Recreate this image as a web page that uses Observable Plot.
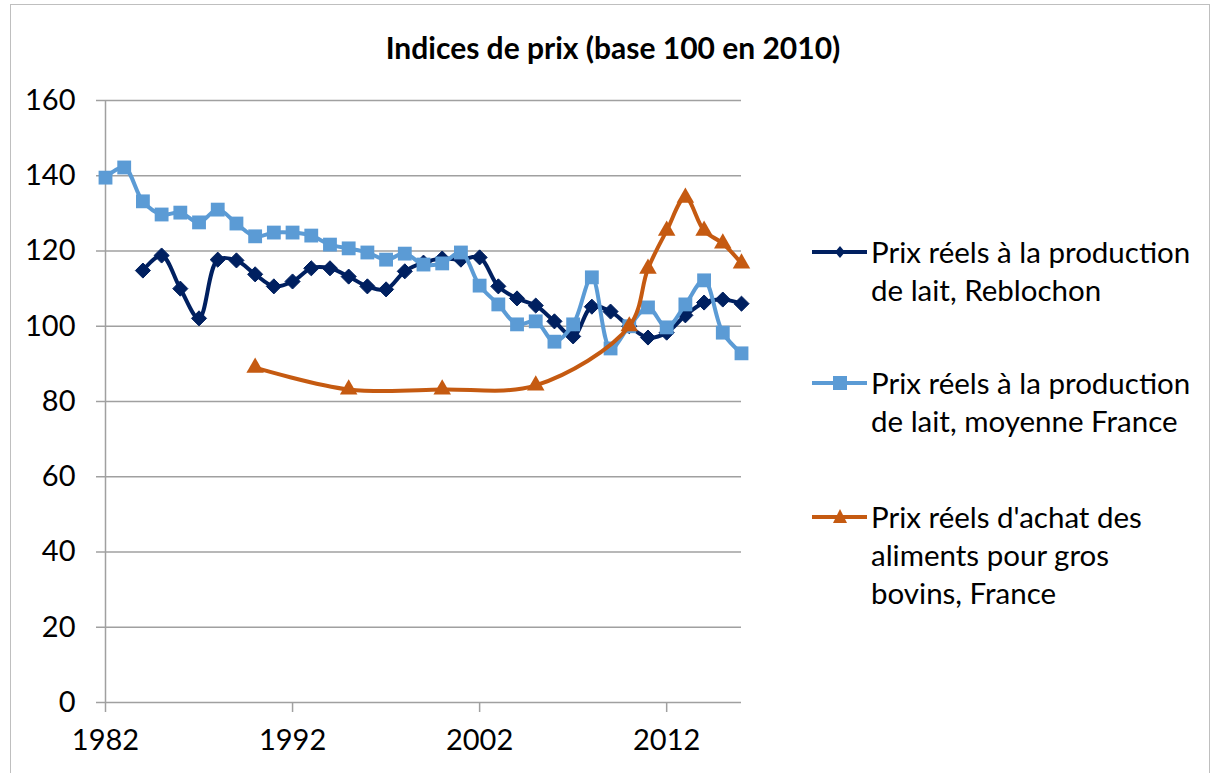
<!DOCTYPE html>
<html>
<head>
<meta charset="utf-8">
<script src="https://cdn.jsdelivr.net/npm/d3@7"></script>
<script src="https://cdn.jsdelivr.net/npm/@observablehq/plot@0.6"></script>
<style>
  html, body { margin: 0; padding: 0; background: #fff; overflow: hidden; }
  #wrap { position: relative; width: 1216px; height: 773px; font-family: Lato, "Open Sans", sans-serif; color: #000; }
  #frame { position: absolute; left: 10px; top: 4px; width: 1200px; height: 800px; border: 1.5px solid #bfbfbf; box-sizing: border-box; }
  #title { position: absolute; left: 0; width: 1226px; top: 28px; text-align: center; font-weight: bold; font-size: 30px; line-height: 38px; }
  .leg { position: absolute; left: 800px; font-size: 29.5px; line-height: 38px; }
  .leg svg { position: absolute; left: 0; top: 0; }
  .leg .txt { position: absolute; left: 71px; top: 0; white-space: nowrap; }
  #chart { position: absolute; left: 0; top: 0; }
</style>
</head>
<body>
<div id="wrap">
  <div id="frame"></div>
  <div id="chart"></div>
  <div id="title"></div>
  <div id="legend"></div>
</div>
<script>
// ---- data ----
const title = "Indices de prix (base 100 en 2010)";
const xTicks = [1982, 1992, 2002, 2012];
const yTicks = [0, 20, 40, 60, 80, 100, 120, 140, 160];

const seriesNames = [
  "Prix réels à la production\nde lait, Reblochon",
  "Prix réels à la production\nde lait, moyenne France",
  "Prix réels d'achat des\naliments pour gros\nbovins, France"
];
const seriesColors = ["#002060", "#5b9bd5", "#c55a11"];

const reblochonYears = [1984,1985,1986,1987,1988,1989,1990,1991,1992,1993,1994,1995,1996,1997,1998,1999,2000,2001,2002,2003,2004,2005,2006,2007,2008,2009,2010,2011,2012,2013,2014,2015,2016];
const reblochonValues = [114.8,118.8,110.0,102.1,117.7,117.5,113.8,110.6,111.9,115.4,115.4,113.2,110.6,109.8,114.6,116.9,118.0,117.7,118.3,110.6,107.4,105.5,101.3,97.3,105.2,103.9,100.0,97.0,98.3,102.9,106.3,107.1,106.0];

const franceYears = [1982,1983,1984,1985,1986,1987,1988,1989,1990,1991,1992,1993,1994,1995,1996,1997,1998,1999,2000,2001,2002,2003,2004,2005,2006,2007,2008,2009,2010,2011,2012,2013,2014,2015,2016];
const franceValues = [139.5,142.2,133.2,129.7,130.2,127.6,131.0,127.3,123.9,124.9,124.9,124.1,121.7,120.7,119.6,117.7,119.3,116.4,116.7,119.6,110.8,105.8,100.5,101.3,95.9,100.5,113.0,94.1,100.0,105.0,99.7,105.8,112.2,98.3,92.8];

const feedYears = [1990,1995,2000,2005,2010,2011,2012,2013,2014,2015,2016];
const feedValues = [89.0,83.2,83.2,84.3,100.0,115.3,125.4,134.2,125.4,122.0,116.7];

// ---- build ----
const reblochon = reblochonYears.map((year, i) => ({year, value: reblochonValues[i]}));
const france = franceYears.map((year, i) => ({year, value: franceValues[i]}));
const feed = feedYears.map((year, i) => ({year, value: feedValues[i]}));

const grid = "#a0a0a0";
const curve = "catmull-rom";

const chart = Plot.plot({
  width: 1216,
  height: 773,
  marginLeft: 105,
  marginRight: 475,
  marginTop: 100,
  marginBottom: 71,
  style: {fontFamily: "Lato, 'Open Sans', sans-serif", fontSize: "29px", color: "#000", background: "transparent", overflow: "visible"},
  x: {domain: [1982, 2016]},
  y: {domain: [0, 160]},
  marks: [
    Plot.ruleY(yTicks, {stroke: grid, strokeWidth: 1.5}),
    Plot.ruleX([1982], {stroke: grid, strokeWidth: 1.5}),
    Plot.axisY({ticks: yTicks, tickSize: 9, tickPadding: 21, stroke: grid, strokeWidth: 1.5, fill: "#000", label: null, tickFormat: d => String(d)}),
    Plot.axisX({ticks: xTicks, tickSize: 10, tickPadding: 17, stroke: grid, strokeWidth: 1.5, fill: "#000", label: null, tickFormat: d => String(d)}),
    Plot.line(reblochon, {x: "year", y: "value", stroke: seriesColors[0], strokeWidth: 4, curve}),
    Plot.dot(reblochon, {x: "year", y: "value", symbol: "diamond2", fill: seriesColors[0], stroke: seriesColors[0], strokeWidth: 1, r: 6.8}),
    Plot.line(france, {x: "year", y: "value", stroke: seriesColors[1], strokeWidth: 4, curve}),
    Plot.dot(france, {x: "year", y: "value", symbol: "square", fill: seriesColors[1], stroke: seriesColors[1], strokeWidth: 0, r: 7.8}),
    Plot.line(feed, {x: "year", y: "value", stroke: seriesColors[2], strokeWidth: 4, curve}),
    Plot.dot(feed, {x: "year", y: "value", symbol: "triangle", fill: seriesColors[2], stroke: seriesColors[2], strokeWidth: 0, r: 6.5})
  ]
});
document.getElementById("chart").appendChild(chart);
document.getElementById("title").textContent = title;

// legend
const legendTops = [233, 364, 498];
const legendSymbols = ["diamond", "square", "triangle"];
const leg = document.getElementById("legend");
seriesNames.forEach((name, i) => {
  const d = document.createElement("div");
  d.className = "leg";
  d.style.top = legendTops[i] + "px";
  const c = seriesColors[i];
  let sym = "";
  if (legendSymbols[i] === "diamond") sym = `<path d="M40,13 L45,19 L40,25 L35,19 Z" fill="${c}"/>`;
  if (legendSymbols[i] === "square") sym = `<rect x="33" y="12" width="14" height="14" fill="${c}"/>`;
  if (legendSymbols[i] === "triangle") sym = `<path d="M40,11 L47,25 L33,25 Z" fill="${c}"/>`;
  d.innerHTML = `<svg width="70" height="38"><line x1="12" x2="67" y1="19" y2="19" stroke="${c}" stroke-width="4"/>${sym}</svg>` +
    `<div class="txt">${name.split("\n").join("<br>")}</div>`;
  leg.appendChild(d);
});
</script>
</body>
</html>
